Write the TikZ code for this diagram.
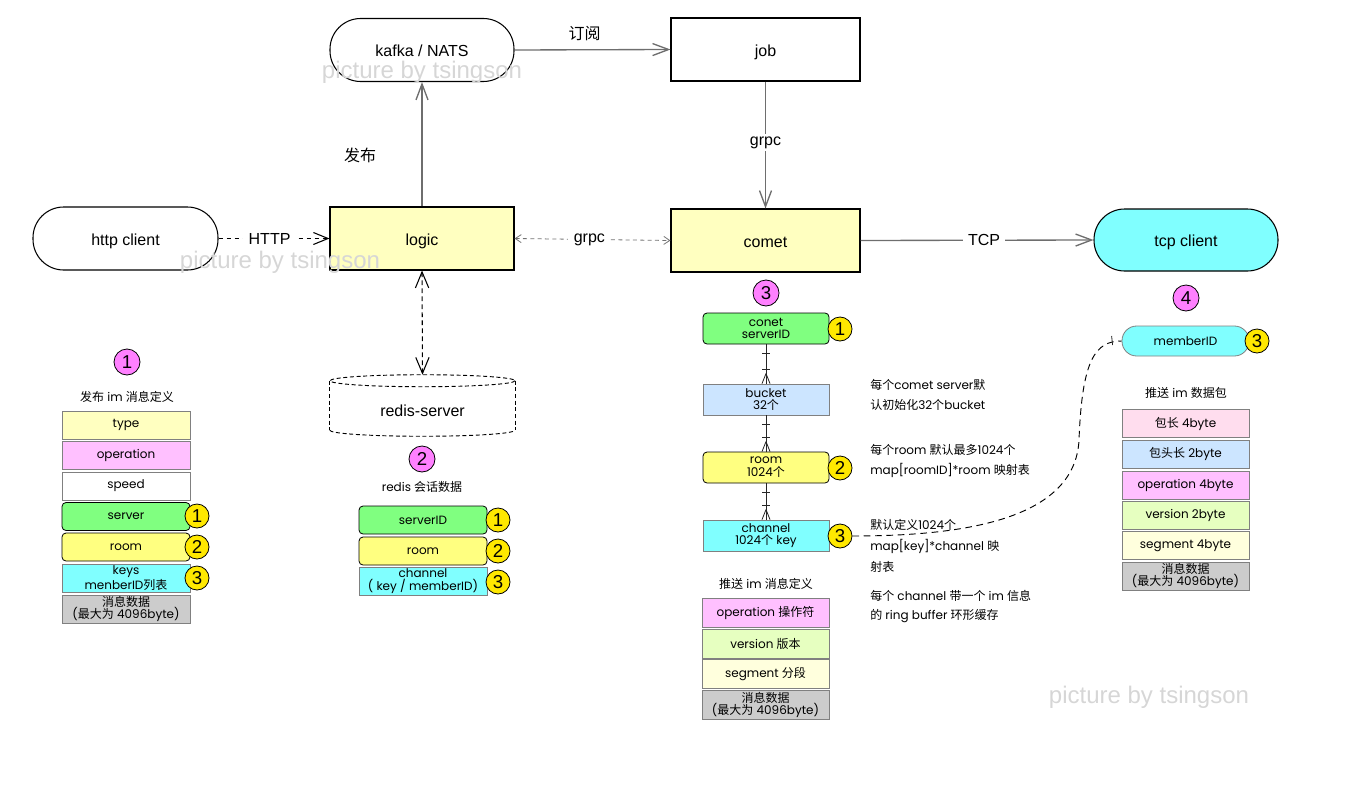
\documentclass[tikz,border=0pt]{standalone}
\usepackage{fontspec}
\usetikzlibrary{arrows.meta,calc}
\setmainfont{Liberation Sans}
\newfontfamily\cjkfont{Noto Sans CJK SC}
\newfontfamily\popfont{Poppins}
\def\latinback{\rmfamily}
\newXeTeXintercharclass\cjkclass
\count255="4E00
\loop
  \XeTeXcharclass\count255=\cjkclass
\ifnum\count255<"9FFF
  \advance\count255 by 1
\repeat
\XeTeXinterchartoks 0 \cjkclass = {\cjkfont}
\XeTeXinterchartoks 4095 \cjkclass = {\cjkfont}
\XeTeXinterchartoks \cjkclass 0 = {\latinback}
\XeTeXinterchartoks \cjkclass 4095 = {\latinback}
\XeTeXinterchartokenstate=1
\newcommand\tabfont{\fontsize{9}{9.6}\selectfont\popfont\def\latinback{\popfont}}
\newcommand\mainfont{\fontsize{12}{14}\selectfont\rmfamily}
\newcommand\numfont{\fontsize{14}{16}\selectfont\rmfamily}
\definecolor{cly}{HTML}{FFFFC0}
\definecolor{cmag}{HTML}{FF80FF}
\definecolor{cpink}{HTML}{FFC0FF}
\definecolor{cgreen}{HTML}{80FF80}
\definecolor{cyellow}{HTML}{FFFF80}
\definecolor{ccyan}{HTML}{80FFFF}
\definecolor{cgray}{HTML}{CCCCCC}
\definecolor{cblue}{HTML}{CCE5FF}
\definecolor{crose}{HTML}{FFDDEE}
\definecolor{cver}{HTML}{E6FFC0}
\definecolor{cseg}{HTML}{FFFFDD}
\definecolor{cynum}{HTML}{FFE800}
\definecolor{cline}{HTML}{6E6E6E}
\tikzset{
  main/.style={draw=black, line width=0.8pt, inner sep=0pt, font=\mainfont, text height=11.8pt, text depth=2pt},
  stad/.style={main, rounded corners=23pt},
  tab/.style={font=\tabfont, align=center, inner sep=0pt},
  tbox/.style={tab, draw=black!50, line width=0.6pt, minimum width=128*0.75pt, minimum height=28*0.75pt},
  rbox/.style={tbox, draw=black, rounded corners=3pt},
  cbox/.style={minimum width=126*0.75pt, minimum height=31*0.75pt},
  num/.style={circle, draw=black, line width=0.6pt, fill=cmag, minimum size=26*0.75pt, inner sep=0pt, font=\numfont},
  ynum/.style={circle, draw=black, line width=0.6pt, fill=cynum, minimum size=24*0.75pt, inner sep=0pt, font=\numfont},
  arr/.style={draw=cline, line width=1pt, -{Straight Barb[length=12pt,width=9pt]}},
  darr/.style={draw=black, line width=0.8pt, dash pattern=on 3.5pt off 2.5pt, -{Straight Barb[length=11pt,width=9pt]}},
  ddarr/.style={draw=black, line width=0.8pt, dash pattern=on 3.5pt off 2.5pt, {Straight Barb[length=12pt,width=10pt]}-{Straight Barb[length=12pt,width=10pt]}},
  gdarr/.style={draw=black!55, line width=0.6pt, dash pattern=on 3pt off 2.5pt, {Straight Barb[length=4.5pt,width=6pt]}-{Straight Barb[length=4.5pt,width=6pt]}},
  lab/.style={fill=white, inner xsep=4pt, inner ysep=2pt, font=\mainfont},
  note/.style={tab, anchor=west, align=left},
  erl/.style={draw=black!85, line width=0.6pt},
  cyl/.style={draw=black, line width=0.7pt, dash pattern=on 3pt off 2pt},
  dcurve/.style={draw=black, line width=0.7pt, dash pattern=on 5pt off 3.5pt},
  wm/.style={text=black!16, font=\fontsize{18}{20}\selectfont\rmfamily, inner sep=0pt}
}
\newcommand\erlink[2]{%
  \draw[erl] (#1.south) -- (#2.north);
  \draw[erl] ($(#1.south)+(-4,9)$) -- ++(8,0);
  \draw[erl] ($(#2.north)+(-4,-14)$) -- ++(8,0);
  \draw[erl] ($(#2.north)+(0,-10)$) -- ($(#2.north)+(-4,0)$);
  \draw[erl] ($(#2.north)+(0,-10)$) -- ($(#2.north)+(4,0)$);
}
\begin{document}
\begin{tikzpicture}[x=0.75pt,y=-0.75pt]
\useasboundingbox (0,0) rectangle (1351,792);

% main nodes
\node[stad, minimum width=184*0.75pt, minimum height=63*0.75pt] (kafka) at (422,50) {kafka / NATS};
\node[main, minimum width=189*0.75pt, minimum height=63*0.75pt] (job) at (765.5,49.5) {job};
\node[main, fill=cly, minimum width=184*0.75pt, minimum height=63*0.75pt] (logic) at (422,238.5) {logic};
\node[stad, minimum width=185*0.75pt, minimum height=63*0.75pt] (http) at (125.5,238.5) {http client};
\node[main, fill=cly, minimum width=189*0.75pt, minimum height=63*0.75pt] (comet) at (765.5,240.5) {comet};
\node[stad, fill=ccyan, minimum width=184*0.75pt, minimum height=62*0.75pt] (tcp) at (1186,240) {tcp client};
\node[inner sep=0pt, minimum width=185*0.75pt, minimum height=61*0.75pt, font=\mainfont, text height=19pt, text depth=2pt] (redis) at (422.5,405.5) {redis-server};
\draw[cyl] ($(redis.north)+(0,6)$) ellipse [x radius=92.5, y radius=6];
\draw[cyl] ($(redis.north west)+(0,6)$) -- ($(redis.south west)+(0,-6)$);
\draw[cyl] ($(redis.north east)+(0,6)$) -- ($(redis.south east)+(0,-6)$);
\draw[cyl] ($(redis.south west)+(0,-6)$) arc [start angle=180, end angle=0, x radius=92.5, y radius=6];

% main connectors
\draw[arr] (kafka.east) -- node[lab, fill=none, pos=0.45, above=4pt]{订阅} (job.west);
\draw[arr] (logic.north) -- node[lab, fill=none, pos=0.41, left=30pt]{发布} (kafka.south);
\draw[darr] (http.east) -- node[lab, pos=0.46]{HTTP} (logic.west);
\draw[gdarr] (logic.east) -- node[lab, pos=0.48]{grpc} (comet.west);
\draw[arr] (job.south) -- node[lab, pos=0.48]{grpc} (comet.north);
\draw[arr] (comet.east) -- node[lab, pos=0.53]{TCP} (tcp.west);
\draw[ddarr] (logic.south) -- (redis.north);

% left table
\node[num] (n1) at (127,362) {1};
\node[tab] (t1) at (127,397) {发布 im 消息定义};
\node[tbox, fill=cly] (a1) at (126,425) {type};
\node[tbox, fill=cpink] (a2) at (126,455.5) {operation};
\node[tbox, fill=white] (a3) at (126,486) {speed};
\node[rbox, fill=cgreen] (a4) at (126,516.5) {server};
\node[rbox, fill=cyellow] (a5) at (126,547) {room};
\node[tbox, fill=ccyan] (a6) at (126,578) {keys\\menberID列表};
\node[tbox, fill=cgray] (a7) at (126,609) {消息数据\\(最大为 4096byte)};
\node[ynum] (a4n) at (197,516) {1};
\node[ynum] (a5n) at (197,547) {2};
\node[ynum] (a6n) at (197,578) {3};

% redis table
\node[num] (n2) at (422,459) {2};
\node[tab] (t2) at (422,487) {redis 会话数据};
\node[rbox, fill=cgreen] (r1) at (423,520) {serverID};
\node[rbox, fill=cyellow] (r2) at (423,551) {room};
\node[tbox, fill=ccyan] (r3) at (423,581) {channel\\( key / memberID)};
\node[ynum] (r1n) at (498,520) {1};
\node[ynum] (r2n) at (498,551) {2};
\node[ynum] (r3n) at (498,582) {3};

% comet column
\node[num] (n3) at (766,293) {3};
\node[rbox, cbox, fill=cgreen] (c1) at (766,328.5) {conet\\serverID};
\node[tbox, cbox, fill=cblue] (c2) at (766,399.5) {bucket\\32个};
\node[rbox, cbox, fill=cyellow] (c3) at (766,467.5) {room\\1024个};
\node[tbox, cbox, fill=ccyan] (c4) at (766,535.5) {channel\\1024个 key};
\node[ynum] (c1n) at (840,329) {1};
\node[ynum] (c3n) at (840,468) {2};
\node[ynum] (c4n) at (840,536) {3};
\erlink{c1}{c2}
\erlink{c2}{c3}
\erlink{c3}{c4}

\node[tab] (t3) at (766,584) {推送 im 消息定义};
\node[tbox, fill=cpink, minimum width=127*0.75pt, minimum height=29*0.75pt] (p1) at (765.5,612.5) {operation 操作符};
\node[tbox, fill=cver, minimum width=127*0.75pt, minimum height=29*0.75pt] (p2) at (765.5,643.5) {version 版本};
\node[tbox, fill=cseg, minimum width=127*0.75pt, minimum height=29*0.75pt] (p3) at (765.5,674) {segment 分段};
\node[tbox, fill=cgray, minimum width=127*0.75pt, minimum height=29*0.75pt] (p4) at (765.5,705) {消息数据\\(最大为 4096byte)};

% notes
\node[note] (s1) at (870,385) {每个comet server默};
\node[note] (s2) at (870,405) {认初始化32个bucket};
\node[note] (s3) at (870,450) {每个room 默认最多1024个};
\node[note] (s4) at (870,470) {map[roomID]*room 映射表};
\node[note] (s5) at (870,525) {默认定义1024个};
\node[note] (s6) at (870,546) {map[key]*channel 映};
\node[note] (s7) at (870,567) {射表};
\node[note] (s8) at (870,596) {每个 channel 带一个 im 信息};
\node[note] (s9) at (870,616) {的 ring buffer 环形缓存};

% right column
\node[num] (n4) at (1186,298) {4};
\node[tab, draw=black!50, line width=0.6pt, fill=ccyan, rounded corners=11pt, minimum width=127*0.75pt, minimum height=30*0.75pt] (member) at (1185.5,341) {memberID};
\node[ynum] (mn) at (1257,341) {3};
\node[tab] (t4) at (1186,393) {推送 im 数据包};
\node[tbox, fill=crose, minimum width=127*0.75pt] (q1) at (1185.5,423.5) {包长 4byte};
\node[tbox, fill=cblue, minimum width=127*0.75pt] (q2) at (1185.5,454) {包头长 2byte};
\node[tbox, fill=cpink, minimum width=127*0.75pt] (q3) at (1185.5,485) {operation 4byte};
\node[tbox, fill=cver, minimum width=127*0.75pt] (q4) at (1185.5,515) {version 2byte};
\node[tbox, fill=cseg, minimum width=127*0.75pt] (q5) at (1185.5,545.5) {segment 4byte};
\node[tbox, fill=cgray, minimum width=127*0.75pt] (q6) at (1185.5,576) {消息数据\\(最大为 4096byte)};

% dashed relation curve
\draw[dcurve] (c4n.east) .. controls ($(c4n.east)+(110,0)$) and (1075,520) .. (1079,440) .. controls (1082,360) and (1095,341) .. (member.west);
\draw[erl] ($(member.west)+(-10,-5)$) -- ($(member.west)+(-9,4)$);

% watermarks
\node[wm] (w1) at (422,72) {picture by tsingson};
\node[wm] (w2) at (280,262) {picture by tsingson};
\node[wm] (w3) at (1149,697) {picture by tsingson};
\end{tikzpicture}
\end{document}
